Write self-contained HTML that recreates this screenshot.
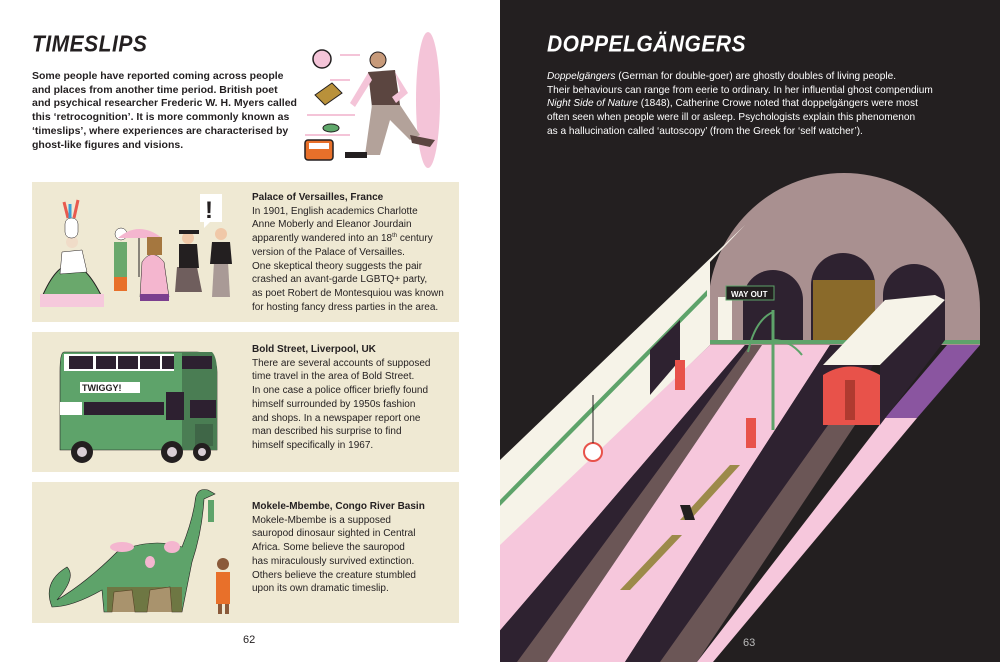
<!DOCTYPE html>
<html><head><meta charset="utf-8"><style>
*{margin:0;padding:0;box-sizing:border-box}
body{width:1000px;height:662px;position:relative;overflow:hidden;background:#fff;font-family:"Liberation Sans",sans-serif;color:#231f20}
.abs{position:absolute}
h1{position:absolute;font-size:21px;font-weight:900;font-style:italic;letter-spacing:0.5px;transform:scaleY(1.1)}
.intro{position:absolute;font-size:10.5px;line-height:13.7px;font-weight:bold;white-space:nowrap}
.panel{position:absolute;left:32px;width:427px;background:#efe9d3}
.ptxt{position:absolute;left:252px;font-size:10px;line-height:13.7px;white-space:nowrap}
.ptxt b{display:block;font-size:10px}
sup{font-size:6px;line-height:0;vertical-align:4px}
.pn{position:absolute;font-size:11px;top:634px}
</style></head><body>
<div class="abs" style="left:500px;top:0;width:500px;height:662px;background:#231f20"></div>

<h1 style="left:32px;top:33px">TIMESLIPS</h1>
<div class="intro" style="left:32px;top:70px">Some people have reported coming across people<br>and places from another time period. British poet<br>and psychical researcher Frederic W. H. Myers called<br>this ‘retrocognition’. It is more commonly known as<br>‘timeslips’, where experiences are characterised by<br>ghost-like figures and visions.</div>

<svg class="abs" style="left:290px;top:25px" width="160" height="150">
<ellipse cx="138" cy="75" rx="12" ry="68" fill="#f4c4d8"/>
<g stroke="#f4c4d8" stroke-width="2"><line x1="50" y1="30" x2="70" y2="30"/><line x1="40" y1="55" x2="60" y2="55"/><line x1="17" y1="90" x2="65" y2="90"/><line x1="15" y1="110" x2="60" y2="110"/></g>
<circle cx="32" cy="34" r="9" fill="#f4c4d8" stroke="#231f20" stroke-width="1.5"/>
<path d="M25 70 L42 58 L52 68 L35 80Z" fill="#b9913a" stroke="#231f20"/>
<ellipse cx="41" cy="103" rx="8" ry="4" fill="#5fa86b" stroke="#231f20"/>
<rect x="15" y="115" width="28" height="20" rx="3" fill="#e8702a" stroke="#231f20" stroke-width="1.5"/>
<rect x="19" y="118" width="20" height="6" fill="#fff"/>
<circle cx="88" cy="35" r="8" fill="#c79a7a" stroke="#231f20"/>
<path d="M78 47 L105 45 L110 80 L82 82Z" fill="#5b4540"/>
<path d="M78 48 L60 78 L65 82 L82 55Z" fill="#f4c4d8"/>
<path d="M105 47 L118 68 L106 78 L102 72 L110 66Z" fill="#f4c4d8"/>
<path d="M82 80 L110 80 L130 110 L120 115 L100 95 L90 130 L75 130Z" fill="#b3a29a"/>
<path d="M120 110 L145 115 L140 122 L122 118Z" fill="#5b4540"/>
<rect x="55" y="127" width="22" height="6" fill="#231f20"/>
</svg>

<div class="panel" style="top:182px;height:140px"></div>
<div class="panel" style="top:332px;height:140px"></div>
<div class="panel" style="top:482px;height:141px"></div>

<svg class="abs" style="left:32px;top:182px" width="220" height="440">
<path d="M10 115 Q38 50 70 115Z" fill="#6aa86c" stroke="#231f20"/>
<rect x="8" y="112" width="64" height="13" fill="#f6c9dc"/>
<circle cx="40" cy="60" r="6" fill="#f0dcc8"/>
<rect x="33" y="36" width="13" height="20" rx="6" fill="#fff" stroke="#231f20" stroke-width=".5"/>
<path d="M36 36 L32 20 M42 36 L46 18" stroke="#e85a4f" stroke-width="3"/>
<path d="M38 36 L38 22" stroke="#3aa0d8" stroke-width="3"/>
<path d="M30 70 L50 68 L55 90 L28 92Z" fill="#fff" stroke="#231f20" stroke-width=".5"/>
<rect x="82" y="60" width="13" height="35" fill="#6aa86c"/>
<rect x="82" y="95" width="13" height="14" fill="#e8702a"/>
<circle cx="89" cy="52" r="6" fill="#fff" stroke="#231f20" stroke-width=".5"/>
<path d="M86 56 Q107 38 130 56Z" fill="#f4b6cf"/>
<line x1="107" y1="56" x2="107" y2="95" stroke="#231f20"/>
<path d="M110 80 Q120 65 132 80 L137 115 L108 115Z" fill="#f4b6cf" stroke="#231f20" stroke-width=".5"/>
<rect x="108" y="112" width="29" height="7" fill="#7b3f8f"/>
<rect x="115" y="55" width="15" height="18" fill="#a5773f"/>
<path d="M145 85 L165 85 L170 110 L143 110Z" fill="#6f5e5d"/>
<path d="M147 62 L165 62 L167 86 L147 86Z" fill="#231f20"/>
<circle cx="156" cy="56" r="6" fill="#f0c8a8"/>
<rect x="147" y="48" width="20" height="4" fill="#231f20"/>
<path d="M182 80 L196 80 L198 115 L180 115Z" fill="#a99a96"/>
<path d="M180 60 L198 60 L200 82 L178 82Z" fill="#231f20"/>
<circle cx="189" cy="52" r="6" fill="#f0c8a8"/>
<path d="M168 12 L190 12 L190 40 L178 40 L172 46 L172 40 L168 40Z" fill="#fff"/>
<text x="173" y="36" font-family="Liberation Sans" font-weight="900" font-size="24" fill="#231f20">!</text>
</svg>

<svg class="abs" style="left:32px;top:332px" width="220" height="140">
<path d="M32 20 L165 20 Q185 20 185 40 L185 118 L28 118 L28 40 Q28 20 32 20Z" fill="#5ea36a" stroke="#231f20" stroke-width=".6"/>
<path d="M150 20 L180 20 Q185 25 185 40 L185 118 L150 118Z" fill="#4a7d53"/>
<rect x="32" y="22" width="110" height="17" fill="#fff"/>
<rect x="37" y="24" width="24" height="13" fill="#2d2030"/>
<rect x="64" y="24" width="20" height="13" fill="#2d2030"/>
<rect x="86" y="24" width="20" height="13" fill="#2d2030"/>
<rect x="108" y="24" width="20" height="13" fill="#2d2030"/>
<rect x="130" y="24" width="12" height="13" fill="#2d2030"/>
<rect x="150" y="24" width="30" height="13" fill="#2d2030"/>
<rect x="48" y="50" width="60" height="11" fill="#fff"/>
<text x="50" y="59" font-family="Liberation Sans" font-weight="900" font-size="9" fill="#231f20">TWIGGY!</text>
<rect x="28" y="70" width="22" height="13" fill="#fff"/>
<rect x="52" y="70" width="80" height="13" fill="#2d2030"/>
<rect x="134" y="60" width="18" height="28" fill="#2d2030"/>
<rect x="158" y="68" width="26" height="18" fill="#2d2030"/>
<rect x="163" y="92" width="18" height="22" fill="#3f6647"/>
<circle cx="50" cy="120" r="11" fill="#231f20"/><circle cx="50" cy="120" r="5" fill="#d9cfd6"/>
<circle cx="140" cy="120" r="11" fill="#231f20"/><circle cx="140" cy="120" r="5" fill="#d9cfd6"/>
<circle cx="170" cy="120" r="9" fill="#231f20"/><circle cx="170" cy="120" r="4" fill="#d9cfd6"/>
</svg>

<svg class="abs" style="left:32px;top:482px" width="220" height="141">
<path d="M20 125 Q10 100 35 85 Q45 95 25 118 Q55 100 85 70 Q120 55 150 65 Q160 40 163 20 Q164 5 176 8 L183 12 L172 17 Q170 50 160 80 Q155 105 150 130 L140 130 L138 105 L118 108 L115 130 L103 130 L100 108 L82 110 L80 130 L72 130 L70 108 Q40 125 20 125Z" fill="#5ea36a" stroke="#231f20" stroke-width=".6"/>
<rect x="75" y="105" width="75" height="25" fill="#7a5a2a" opacity=".6"/>
<ellipse cx="90" cy="65" rx="12" ry="5" fill="#f4b6cf"/><ellipse cx="140" cy="65" rx="8" ry="6" fill="#f4b6cf"/><ellipse cx="118" cy="80" rx="5" ry="6" fill="#f4b6cf"/>
<rect x="176" y="18" width="6" height="22" fill="#5ea36a"/>
<rect x="184" y="90" width="14" height="32" fill="#e8702a"/>
<circle cx="191" cy="82" r="6" fill="#8a5a3a"/>
<rect x="186" y="122" width="4" height="10" fill="#8a5a3a"/><rect x="193" y="122" width="4" height="10" fill="#8a5a3a"/>
</svg>

<div class="ptxt" style="top:191px"><b>Palace of Versailles, France</b>In 1901, English academics Charlotte<br>Anne Moberly and Eleanor Jourdain<br>apparently wandered into an 18<sup>th</sup> century<br>version of the Palace of Versailles.<br>One skeptical theory suggests the pair<br>crashed an avant-garde LGBTQ+ party,<br>as poet Robert de Montesquiou was known<br>for hosting fancy dress parties in the area.</div>
<div class="ptxt" style="top:343px"><b>Bold Street, Liverpool, UK</b>There are several accounts of supposed<br>time travel in the area of Bold Street.<br>In one case a police officer briefly found<br>himself surrounded by 1950s fashion<br>and shops. In a newspaper report one<br>man described his surprise to find<br>himself specifically in 1967.</div>
<div class="ptxt" style="top:500px"><b>Mokele-Mbembe, Congo River Basin</b>Mokele-Mbembe is a supposed<br>sauropod dinosaur sighted in Central<br>Africa. Some believe the sauropod<br>has miraculously survived extinction.<br>Others believe the creature stumbled<br>upon its own dramatic timeslip.</div>
<div class="pn" style="left:243px">62</div>

<h1 style="left:547px;top:33px;color:#fff">DOPPELGÄNGERS</h1>
<div class="intro" style="left:547px;top:70px;color:#fff;font-weight:normal;font-size:10.1px"><i>Doppelgängers</i> (German for double-goer) are ghostly doubles of living people.<br>Their behaviours can range from eerie to ordinary. In her influential ghost compendium<br><i>Night Side of Nature</i> (1848), Catherine Crowe noted that doppelgängers were most<br>often seen when people were ill or asleep. Psychologists explain this phenomenon<br>as a hallucination called ‘autoscopy’ (from the Greek for ‘self watcher’).</div>

<svg class="abs" style="left:500px;top:0" width="500" height="662">
<path d="M208 345 L208 309 A136 136 0 0 1 480 309 L480 345Z" fill="#a99090"/>
<path d="M243 340 L243 300 A28 28 0 0 1 303 300 L303 340Z" fill="#2e2230"/>
<path d="M311 340 L311 285 A32 32 0 0 1 375 285 L375 340Z" fill="#2e2230"/>
<path d="M313 340 L313 280 L375 280 L375 340Z" fill="#8a6a2a"/>
<path d="M383 340 L383 295 A30 30 0 0 1 445 295 L445 340Z" fill="#2e2230"/>
<rect x="218" y="297" width="14" height="45" fill="#f6f3e8"/>
<rect x="226" y="286" width="48" height="14" fill="#231f20" stroke="#5ea36a"/>
<text x="231" y="297" font-family="Liberation Sans" font-weight="bold" font-size="8" fill="#fff">WAY OUT</text>
<rect x="208" y="340" width="272" height="4" fill="#5ea36a"/>
<polygon points="245,225 0,460 0,548 210,345 210,262" fill="#f6f3e8"/>
<polygon points="207,290 0,500 0,506 207,296" fill="#5ea36a"/>
<polygon points="150,395 180,360 180,320 150,350" fill="#2e2230"/>
<polygon points="210,345 245,345 -27,662 0,662 0,545" fill="#f6c7dc"/>
<polygon points="245,345 262,345 47,662 -27,662" fill="#2e2230"/>
<polygon points="250,345 262,345 47,662 17,662" fill="#6b5656"/>
<polygon points="262,345 330,345 125,662 47,662" fill="#f6c7dc"/>
<polygon points="330,345 385,345 197,662 125,662" fill="#2e2230"/>
<polygon points="360,380 385,380 197,662 160,662" fill="#6b5656"/>
<polygon points="385,418 417,418 213,662 197,662" fill="#f6c7dc"/>
<polygon points="447,345 480,345 417,418 385,418" fill="#8a55a0"/>
<polygon points="323,365 380,365 445,300 435,295 385,300" fill="#f6f3e8"/>
<polygon points="380,365 380,425 445,340 445,300" fill="#2e2230"/>
<path d="M323 425 L323 375 Q350 358 380 375 L380 425Z" fill="#e8524a"/>
<rect x="345" y="380" width="10" height="40" fill="#b03a30"/>
<line x1="273" y1="310" x2="273" y2="430" stroke="#5ea36a" stroke-width="3"/>
<path d="M273 312 Q255 320 248 352 M273 340 Q290 340 302 355" stroke="#5ea36a" stroke-width="2" fill="none"/>
<rect x="175" y="360" width="10" height="30" fill="#e8524a"/>
<rect x="246" y="418" width="10" height="30" fill="#e8524a"/>
<circle cx="93" cy="452" r="9" fill="#fff" stroke="#e8524a" stroke-width="2"/>
<line x1="93" y1="395" x2="93" y2="443" stroke="#231f20"/>
<polygon points="230,465 240,465 190,520 180,520" fill="#9c8a4a"/>
<polygon points="180,505 190,505 195,520 185,520" fill="#231f20"/>
<polygon points="172,535 182,535 130,590 120,590" fill="#9c8a4a"/>
<text x="243" y="646" font-family="Liberation Sans" font-size="11" fill="#bbb">63</text>
</svg>
</body></html>
